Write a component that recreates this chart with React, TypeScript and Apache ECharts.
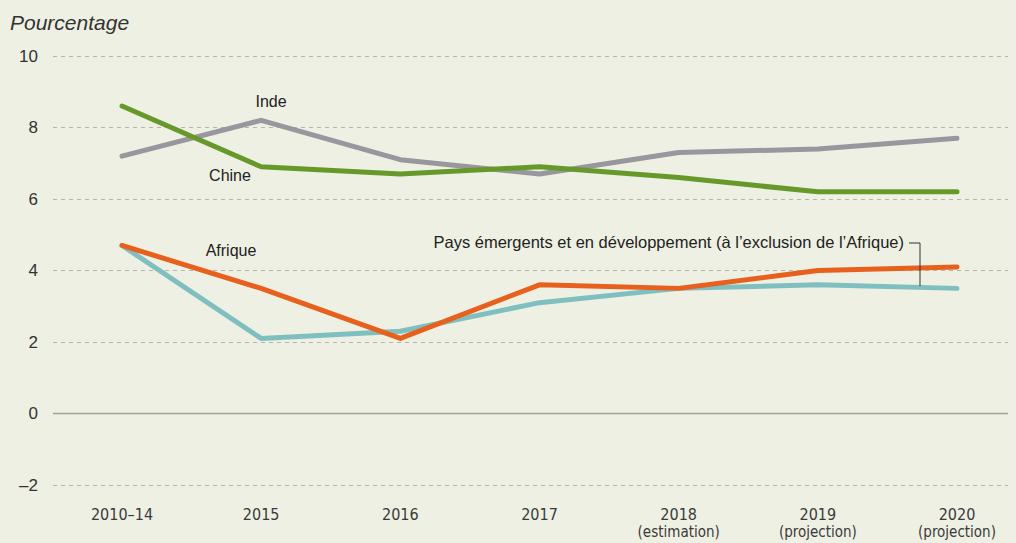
import React, { useEffect, useRef } from "react";
import * as echarts from "echarts";

const categories = ["2010–14", "2015", "2016", "2017", "2018", "2019", "2020"];
const subLabels = ["", "", "", "", "(estimation)", "(projection)", "(projection)"];
const inde = [7.2, 8.2, 7.1, 6.7, 7.3, 7.4, 7.7];
const chine = [8.6, 6.9, 6.7, 6.9, 6.6, 6.2, 6.2];
const afrique = [4.7, 3.5, 2.1, 3.6, 3.5, 4.0, 4.1];
const emergents = [4.7, 2.1, 2.3, 3.1, 3.5, 3.6, 3.5];

const BG = "#eef0e3";
const LABEL_FONT = "'Liberation Sans', Arial, sans-serif";
const AXIS_FONT = "'DejaVu Sans Condensed', 'Liberation Sans Narrow', 'Liberation Sans', sans-serif";

export default function App() {
  const ref = useRef<HTMLDivElement>(null);
  useEffect(() => {
    document.body.style.margin = "0";
    const chart = echarts.init(ref.current!, null, { renderer: "svg" });
    const lineSeries = (name: string, data: number[], color: string, z: number) => ({
      name,
      type: "line",
      xAxisIndex: 1,
      yAxisIndex: 1,
      data,
      symbol: "none",
      z,
      lineStyle: { color, width: 5, cap: "round", join: "round" },
    });
    const lbl = (text: string, x: number, y: number, align = "center", size = 16) => ({
      type: "text",
      x,
      y,
      style: { text, font: `${size}px ${LABEL_FONT}`, fill: "#222", align, verticalAlign: "middle" },
    });
    chart.setOption({
      animation: false,
      backgroundColor: BG,
      grid: [
        { left: 53, right: 8, top: 56, bottom: 58 },
        { left: 122, right: 59, top: 56, bottom: 58 },
      ],
      xAxis: [
        { type: "value", gridIndex: 0, min: 0, max: 1, show: false },
        {
          type: "category",
          gridIndex: 1,
          data: categories,
          boundaryGap: false,
          axisLine: { show: false },
          axisTick: { show: false },
          axisLabel: {
            margin: 20,
            interval: 0,
            formatter: (v: string, i: number) =>
              subLabels[i] ? `{a|${v}}\n{b|${subLabels[i]}}` : `{a|${v}}`,
            rich: {
              a: { fontFamily: AXIS_FONT, fontSize: 16, color: "#3a3a3a", lineHeight: 18 },
              b: { fontFamily: AXIS_FONT, fontSize: 15, color: "#3a3a3a", lineHeight: 18 },
            },
            verticalAlign: "top",
          },
        },
      ],
      yAxis: [
        {
          type: "value",
          gridIndex: 0,
          min: -2,
          max: 10,
          interval: 2,
          axisLine: { show: false },
          axisTick: { show: false },
          axisLabel: {
            margin: 15,
            fontFamily: LABEL_FONT,
            fontSize: 17,
            color: "#333",
            formatter: (v: number) => (v < 0 ? "–" + Math.abs(v) : String(v)),
          },
          splitLine: { lineStyle: { color: "#b5b5b0", type: [4, 4], width: 1 } },
        },
        {
          type: "value",
          gridIndex: 1,
          min: -2,
          max: 10,
          interval: 2,
          show: false,
          splitLine: { show: false },
        },
      ],
      series: [
        {
          type: "line",
          xAxisIndex: 0,
          yAxisIndex: 0,
          data: [
            [0, 0],
            [1, 0],
          ],
          symbol: "none",
          silent: true,
          lineStyle: { color: "#a0a09c", width: 1.5 },
          z: 1,
        },
        lineSeries("Inde", inde, "#97979d", 3),
        lineSeries("Chine", chine, "#66992a", 4),
        lineSeries("Pays émergents et en développement (à l’exclusion de l’Afrique)", emergents, "#80bfc0", 3),
        lineSeries("Afrique", afrique, "#e8601e", 4),
      ],
      graphic: [
        {
          type: "text",
          left: 10,
          top: 12,
          style: {
            text: "Pourcentage",
            font: `italic 21px ${LABEL_FONT}`,
            fill: "#333",
          },
        },
        lbl("Inde", 271, 101),
        lbl("Chine", 230, 175),
        lbl("Afrique", 231, 250),
        lbl("Pays émergents et en développement (à l’exclusion de l’Afrique)", 904, 242, "right", 16.5),
        {
          type: "polyline",
          shape: { points: [[909, 243], [920, 243], [920, 286]] },
          style: { stroke: "#333", lineWidth: 1, fill: "none" },
          z: 10,
        },
      ],
    });
    return () => chart.dispose();
  }, []);
  return <div ref={ref} style={{ width: 1016, height: 543 }} />;
}
